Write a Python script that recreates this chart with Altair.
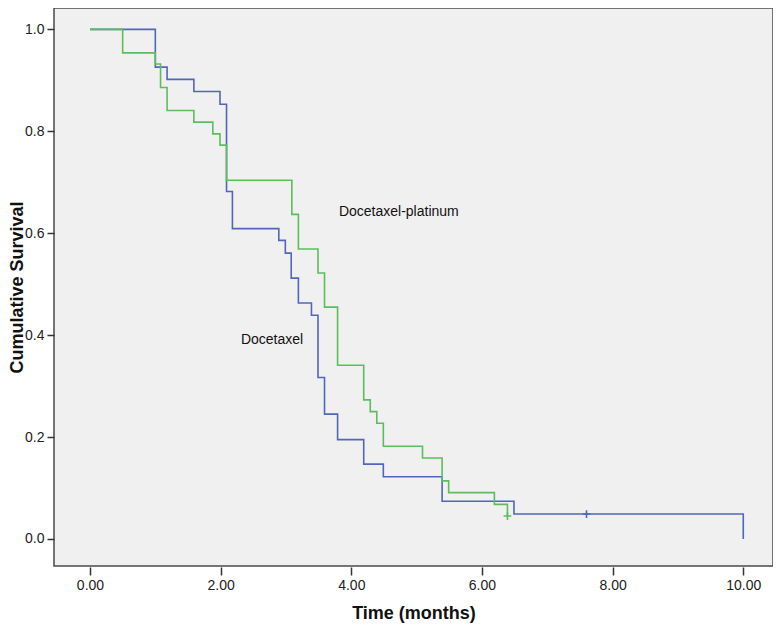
import altair as alt
import pandas as pd

# Docetaxel (blue) Kaplan-Meier steps
doc_time = [0.0, 1.0, 1.18, 1.59, 1.99, 2.09, 2.18, 2.89, 2.99, 3.08, 3.19, 3.39, 3.49,
            3.59, 3.79, 4.19, 4.49, 5.39, 6.49, 10.0]
doc_surv = [1.0, 0.926, 0.902, 0.878, 0.853, 0.682, 0.609, 0.586, 0.561, 0.512, 0.463,
            0.439, 0.317, 0.245, 0.195, 0.147, 0.122, 0.074, 0.049, 0.0]

# Docetaxel-platinum (green) Kaplan-Meier steps
plat_time = [0.0, 0.5, 1.0, 1.08, 1.18, 1.59, 1.88, 1.99, 2.09, 3.09, 3.19, 3.49, 3.59,
             3.79, 4.19, 4.29, 4.39, 4.49, 5.09, 5.39, 5.49, 6.19, 6.39]
plat_surv = [1.0, 0.954, 0.932, 0.886, 0.841, 0.818, 0.795, 0.773, 0.704, 0.637, 0.569,
             0.522, 0.455, 0.341, 0.273, 0.250, 0.227, 0.182, 0.159, 0.114, 0.091, 0.068, 0.045]

# censored observations
cens_group = ["Docetaxel", "Docetaxel-platinum"]
cens_time = [7.6, 6.39]
cens_surv = [0.049, 0.045]

# curve labels
label_text = ["Docetaxel-platinum", "Docetaxel"]
label_time = [3.81, 2.31]
label_surv = [0.6425, 0.39]

x_ticks = [0, 2, 4, 6, 8, 10]
y_ticks = [0.0, 0.2, 0.4, 0.6, 0.8, 1.0]

groups = ["Docetaxel", "Docetaxel-platinum"]
colors = ["#5166b9", "#5dbd5d"]

curves = pd.concat([
    pd.DataFrame({"t": doc_time, "s": doc_surv, "g": "Docetaxel"}),
    pd.DataFrame({"t": plat_time, "s": plat_surv, "g": "Docetaxel-platinum"}),
])
cens = pd.DataFrame({"t": cens_time, "s": cens_surv, "g": cens_group})
labels = pd.DataFrame({"t": label_time, "s": label_surv, "txt": label_text})

xs = alt.Scale(domain=[-0.551, 10.455], nice=False, zero=False)
ys = alt.Scale(domain=[-0.053, 1.042], nice=False, zero=False)
cs = alt.Scale(domain=groups, range=colors)

xaxis = alt.Axis(values=x_ticks, format=".2f", title="Time (months)", grid=False,
                 domain=False, tickSize=8, offset=1, labelPadding=3,
                 titleY=51, titleBaseline="alphabetic")
yaxis = alt.Axis(values=y_ticks, format=".1f", title="Cumulative Survival", grid=False,
                 domain=False, tickSize=7, labelPadding=3, titleX=-32, titleY=279,
                 titleBaseline="alphabetic")

lines = alt.Chart(curves).mark_line(interpolate="step-after", strokeWidth=1.6).encode(
    x=alt.X("t:Q", scale=xs, axis=xaxis),
    y=alt.Y("s:Q", scale=ys, axis=yaxis),
    color=alt.Color("g:N", scale=cs, legend=None),
    detail="g:N",
)

marks = alt.Chart(cens).mark_point(
    shape="M-1,0L1,0M0,-1L0,1", size=60, strokeWidth=1.6, filled=False, opacity=1
).encode(
    x=alt.X("t:Q", scale=xs),
    y=alt.Y("s:Q", scale=ys),
    color=alt.Color("g:N", scale=cs, legend=None),
)

texts = alt.Chart(labels).mark_text(align="left", baseline="middle", fontSize=14,
                                     font="Liberation Sans", color="#111").encode(
    x=alt.X("t:Q", scale=xs),
    y=alt.Y("s:Q", scale=ys),
    text="txt:N",
)

chart = alt.layer(lines, marks, texts).properties(
    width=719,
    height=558,
    autosize=alt.AutoSizeParams(type="none"),
    padding={"left": 46, "top": 0, "right": 0, "bottom": 57},
    background="white",
).configure_view(
    fill="#f0f0f0", stroke="#4a4a4a", strokeWidth=1.5
).configure_axis(
    labelFont="Liberation Sans", labelFontSize=14, labelColor="#222222",
    titleFont="Liberation Sans", titleFontSize=18, titleFontWeight="bold",
    titleColor="#111111", tickColor="#333333", tickWidth=1.5,
)

chart.save("out.html", embed_options={"renderer": "svg", "actions": False})
